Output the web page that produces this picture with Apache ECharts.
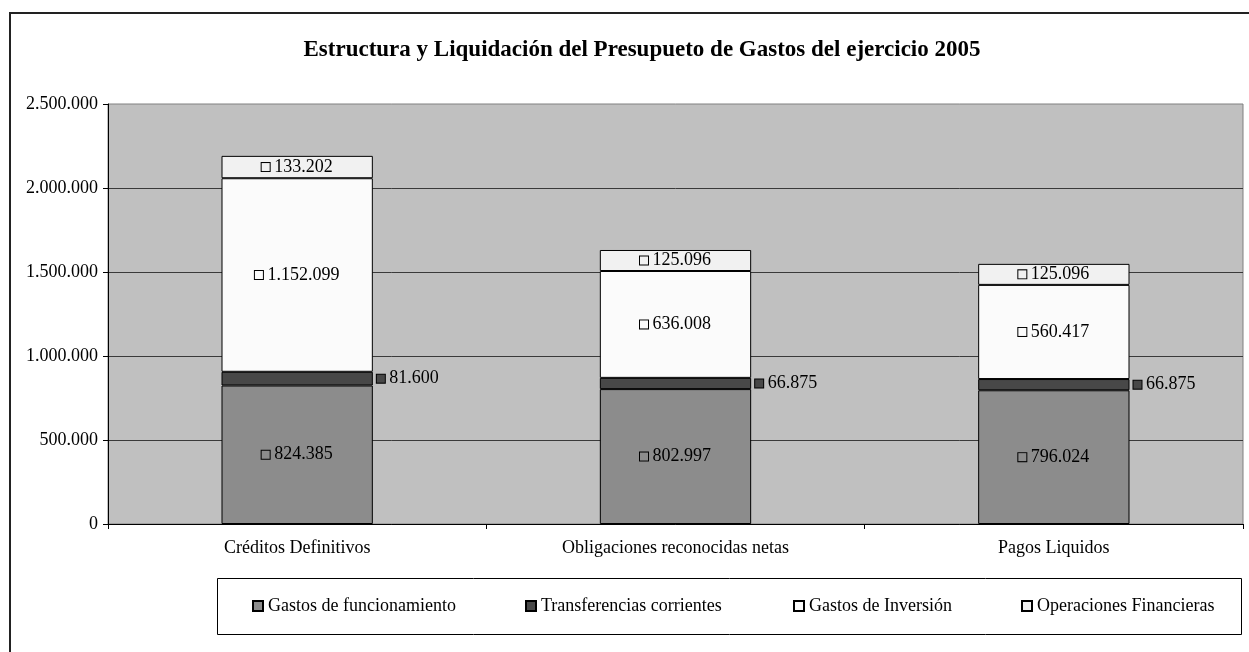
<!DOCTYPE html>
<html>
<head>
<meta charset="utf-8">
<title>Estructura y Liquidación del Presupueto de Gastos</title>
<script src="https://cdn.jsdelivr.net/npm/echarts@6/dist/echarts.min.js"></script>
<style>
  html, body { margin: 0; padding: 0; background: #fff; }
  #chart { width: 1249px; height: 652px; }
</style>
</head>
<body>
<div id="chart"></div>
<script>
// datos
const categories = ['Créditos Definitivos', 'Obligaciones reconocidas netas', 'Pagos Liquidos'];
const seriesNames = ['Gastos de funcionamiento', 'Transferencias corrientes', 'Gastos de Inversión', 'Operaciones Financieras'];
const gastosFuncionamiento = [824385, 802997, 796024];
const transferencias = [81600, 66875, 66875];
const gastosInversion = [1152099, 636008, 560417];
const operacionesFinancieras = [133202, 125096, 125096];

const colors = ['#8C8C8C', '#484848', '#FBFBFB', '#F1F1F1'];
const FONT = '"Liberation Serif", "DejaVu Serif", serif';
const FS = 18;

// 1234567 -> 1.234.567
const fmt = (v) => String(v).replace(/\B(?=(\d{3})+(?!\d))/g, '.');

const labelFor = (color, position) => {
  return {
    show: true,
    position: position,
    distance: 4,
    formatter: (p) => '{b|}{t| ' + fmt(p.value) + '}',
    rich: {
      b: {
        width: 8,
        height: 8,
        backgroundColor: color,
        borderColor: '#000',
        borderWidth: 1
      },
      t: {
        fontFamily: FONT,
        fontSize: FS,
        color: '#000'
      }
    }
  };
};

const makeSeries = (i, data, pos) => {
  return {
    name: seriesNames[i],
    type: 'bar',
    stack: 'total',
    barWidth: '40%',
    data: data,
    itemStyle: {
      color: colors[i],
      borderColor: '#000',
      borderWidth: 1
    },
    label: labelFor(colors[i], pos)
  };
};

// una leyenda por serie para colocarlas como en el original
const legendLefts = [252, 525, 793, 1021];
const legends = seriesNames.map((n, i) => ({
  data: [n],
  left: legendLefts[i],
  top: 597,
  icon: 'rect',
  itemWidth: 10,
  itemHeight: 10,
  padding: 0,
  selectedMode: false,
  textStyle: { fontFamily: FONT, fontSize: FS, color: '#000' }
}));

const chart = echarts.init(document.getElementById('chart'));
chart.setOption({
  animation: false,
  backgroundColor: '#fff',
  title: {
    text: 'Estructura y Liquidación del Presupueto de Gastos del ejercicio 2005',
    left: 637,
    textAlign: 'center',
    top: 34,
    textStyle: { fontFamily: FONT, fontSize: 23, fontWeight: 'bold', color: '#000' }
  },
  legend: legends,
  grid: {
    left: 108,
    top: 104,
    right: 6,
    bottom: 128,
    show: true,
    backgroundColor: '#C0C0C0',
    borderColor: '#808080',
    borderWidth: 1
  },
  xAxis: {
    type: 'category',
    data: categories,
    axisLine: { lineStyle: { color: '#000', width: 1 } },
    axisTick: { show: true, length: 5, lineStyle: { color: '#000' } },
    axisLabel: { margin: 15, fontFamily: FONT, fontSize: FS, color: '#000' }
  },
  yAxis: {
    type: 'value',
    min: 0,
    max: 2500000,
    interval: 500000,
    axisLine: { show: true, lineStyle: { color: '#000', width: 1 } },
    axisTick: { show: true, length: 5, lineStyle: { color: '#000' } },
    axisLabel: { margin: 10, fontFamily: FONT, fontSize: FS, color: '#000', formatter: (v) => fmt(v) },
    splitLine: { show: true, showMaxLine: false, lineStyle: { color: '#3A3A3A', width: 1 } }
  },
  series: [
    makeSeries(0, gastosFuncionamiento, 'inside'),
    makeSeries(1, transferencias, 'right'),
    makeSeries(2, gastosInversion, 'inside'),
    makeSeries(3, operacionesFinancieras, 'inside')
  ],
  graphic: [
    {
      type: 'rect',
      silent: true,
      shape: { x: 10, y: 13, width: 1300, height: 700 },
      style: { fill: 'none', stroke: '#222', lineWidth: 2 }
    },
    {
      type: 'rect',
      silent: true,
      shape: { x: 217.5, y: 578.5, width: 1024, height: 56 },
      style: { fill: 'none', stroke: '#000', lineWidth: 1 }
    }
  ]
});
</script>
</body>
</html>
